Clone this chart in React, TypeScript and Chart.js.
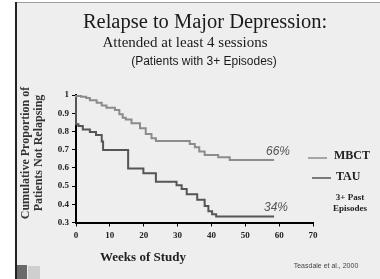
import React, { useEffect, useRef } from "react";
import { Chart, registerables } from "chart.js";

Chart.register(...registerables);

// Weeks of study (x) and cumulative proportion not relapsing (y)
const mbctWeeks = [0, 1.5, 3, 4.1, 6.1, 7.6, 9.0, 11.5, 12.8, 13.8, 14.7, 16.4, 18.9, 20.6, 22.3, 23.6, 33.6, 35.1, 36.4, 38.0, 42.0, 45.4, 48.4, 58.5];
const mbctValues = [1.0, 0.995, 0.99, 0.983, 0.971, 0.958, 0.943, 0.93, 0.918, 0.894, 0.875, 0.866, 0.845, 0.818, 0.786, 0.762, 0.747, 0.731, 0.713, 0.69, 0.67, 0.658, 0.643, 0.643];

const tauWeeks = [0, 0, 0.7, 2.0, 4.1, 5.9, 7.6, 8.0, 15.4, 19.9, 23.6, 29.7, 31.2, 32.7, 35.8, 38.0, 39.1, 40.2, 41.4, 42.2, 58.5];
const tauValues = [1.0, 0.866, 0.84, 0.83, 0.81, 0.797, 0.78, 0.745, 0.698, 0.597, 0.57, 0.524, 0.505, 0.484, 0.455, 0.425, 0.39, 0.362, 0.345, 0.333, 0.333];

const xTicks = [0, 10, 20, 30, 40, 50, 60, 70];
const yTicks = [0.3, 0.4, 0.5, 0.6, 0.7, 0.8, 0.9, 1];

const seriesNames = ["MBCT", "TAU"];
const endLabels = ["66%", "34%"];

const titleLines = ["Relapse to Major Depression:", "Attended at least 4 sessions", "(Patients with 3+ Episodes)"];
const yTitleLines = ["Cumulative Proportion of", "Patients Not Relapsing"];
const xTitle = "Weeks of Study";
const noteLines = ["3+ Past", "Episodes"];
const citation = "Teasdale et al., 2000";

const MBCT_COLOR = "#8c8c8c";
const TAU_COLOR = "#555555";
const SERIF = '"Liberation Serif", "DejaVu Serif", serif';
const SANS = '"Liberation Sans", "DejaVu Sans", sans-serif';

const decorPlugin = {
  id: "decor",
  beforeDraw(chart: any) {
    const { ctx, width, height } = chart;
    ctx.save();
    ctx.fillStyle = "#ffffff";
    ctx.fillRect(0, 0, width, height);
    ctx.fillStyle = "#eeeeee";
    ctx.fillRect(16, 2, width - 16, height - 2);
    ctx.strokeStyle = "#a0a0a0";
    ctx.lineWidth = 1;
    ctx.beginPath();
    ctx.moveTo(16, 2.5);
    ctx.lineTo(width, 2.5);
    ctx.stroke();
    ctx.strokeStyle = "#222222";
    ctx.lineWidth = 2;
    ctx.beginPath();
    ctx.moveTo(16, 2);
    ctx.lineTo(16, height);
    ctx.stroke();
    // small logo blocks at bottom-left
    ctx.fillStyle = "#6a6a6a";
    ctx.fillRect(17, 265, 10, 14);
    ctx.fillStyle = "#cfcfcf";
    ctx.fillRect(28, 266, 12, 13);
    ctx.restore();
  },
  afterDraw(chart: any) {
    const { ctx } = chart;
    ctx.save();
    ctx.textAlign = "center";
    ctx.textBaseline = "middle";
    ctx.fillStyle = "#1a1a1a";
    ctx.font = `20.5px ${SERIF}`;
    ctx.fillText(titleLines[0], 205, 23);
    ctx.font = `15px ${SERIF}`;
    ctx.fillText(titleLines[1], 185, 43);
    ctx.font = `12px ${SANS}`;
    ctx.fillText(titleLines[2], 204, 62);

    // y axis title
    ctx.save();
    ctx.translate(26, 153);
    ctx.rotate(-Math.PI / 2);
    ctx.font = `bold 12px ${SERIF}`;
    ctx.fillStyle = "#333333";
    ctx.fillText(yTitleLines[0], 0, 0);
    ctx.fillText(yTitleLines[1], 0, 13);
    ctx.restore();

    // x axis title
    ctx.font = `bold 13px ${SERIF}`;
    ctx.fillStyle = "#222222";
    ctx.fillText(xTitle, 143, 258);

    // end labels
    ctx.font = `italic 12px ${SANS}`;
    ctx.fillStyle = "#555555";
    ctx.fillText(endLabels[0], 278, 152);
    ctx.fillText(endLabels[1], 276, 208);

    // legend
    ctx.lineWidth = 1.5;
    ctx.strokeStyle = MBCT_COLOR;
    ctx.beginPath();
    ctx.moveTo(308, 158);
    ctx.lineTo(327, 158);
    ctx.stroke();
    ctx.strokeStyle = TAU_COLOR;
    ctx.beginPath();
    ctx.moveTo(312, 178);
    ctx.lineTo(331, 178);
    ctx.stroke();
    ctx.textAlign = "left";
    ctx.font = `bold 12px ${SERIF}`;
    ctx.fillStyle = "#222222";
    ctx.fillText(seriesNames[0], 334, 156);
    ctx.fillText(seriesNames[1], 336, 177);

    ctx.textAlign = "center";
    ctx.font = `bold 9px ${SERIF}`;
    ctx.fillText(noteLines[0], 350, 198);
    ctx.fillText(noteLines[1], 350, 209);

    ctx.font = `7px ${SANS}`;
    ctx.fillStyle = "#444444";
    ctx.fillText(citation, 326, 266);
    ctx.restore();
  },
};

export default function App() {
  const canvasRef = useRef<HTMLCanvasElement | null>(null);

  useEffect(() => {
    document.body.style.margin = "0";
    const canvas = canvasRef.current;
    if (!canvas) return;
    const chart = new Chart(canvas, {
      type: "line",
      data: {
        datasets: [
          {
            label: seriesNames[0],
            data: mbctWeeks.map((w, i) => ({ x: w, y: mbctValues[i] })),
            borderColor: MBCT_COLOR,
            borderWidth: 2,
            pointRadius: 0,
            stepped: "after",
            fill: false,
            clip: false as any,
          },
          {
            label: seriesNames[1],
            data: tauWeeks.map((w, i) => ({ x: w, y: tauValues[i] })),
            borderColor: TAU_COLOR,
            borderWidth: 2,
            pointRadius: 0,
            stepped: "after",
            fill: false,
            clip: false as any,
          },
        ],
      },
      options: {
        animation: false,
        responsive: true,
        maintainAspectRatio: false,
        layout: { padding: { top: 95, left: 0, right: 67, bottom: 0 } },
        plugins: {
          legend: { display: false },
          title: { display: false },
          tooltip: { enabled: false },
        },
        scales: {
          x: {
            type: "linear",
            min: 0,
            max: 70,
            afterFit: (s: any) => {
              s.height = 56.5;
            },
            afterBuildTicks: (s: any) => {
              s.ticks = xTicks.map((v) => ({ value: v }));
            },
            border: { display: true, color: "#000000", width: 2 },
            grid: { display: true, drawOnChartArea: false, drawTicks: true, tickLength: 4, color: "#000000", lineWidth: 1 },
            ticks: {
              color: "#222222",
              padding: 4,
              font: { family: SERIF, size: 9, weight: "bold" },
              maxRotation: 0,
            },
          },
          y: {
            type: "linear",
            min: 0.3,
            max: 1,
            afterFit: (s: any) => {
              s.width = 76;
            },
            afterBuildTicks: (s: any) => {
              s.ticks = yTicks.map((v) => ({ value: v }));
            },
            border: { display: true, color: "#000000", width: 2 },
            grid: { display: true, drawOnChartArea: false, drawTicks: true, tickLength: 4, color: "#000000", lineWidth: 1 },
            ticks: {
              color: "#222222",
              padding: 3,
              font: { family: SERIF, size: 9, weight: "bold" },
              callback: (v: any) => (Number(v) >= 0.999 ? "1" : Number(v).toFixed(1)),
            },
          },
        },
      },
      plugins: [decorPlugin],
    });
    return () => chart.destroy();
  }, []);

  return (
    <div style={{ width: 380, height: 279, position: "relative" }}>
      <canvas ref={canvasRef} />
    </div>
  );
}
